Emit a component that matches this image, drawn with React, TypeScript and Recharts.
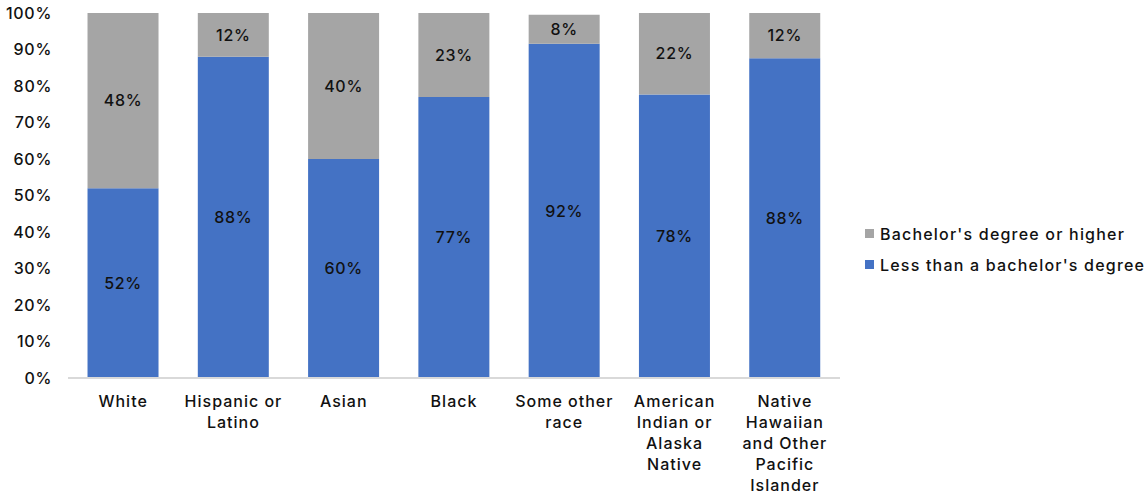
import { Bar, BarChart, LabelList, XAxis, YAxis } from 'recharts';

const CATEGORIES = [
  'White',
  'Hispanic or Latino',
  'Asian',
  'Black',
  'Some other race',
  'American Indian or Alaska Native',
  'Native Hawaiian and Other Pacific Islander',
];

// wrapped the way the source chart breaks them
const CATEGORY_LINES = [
  ['White'],
  ['Hispanic or', 'Latino'],
  ['Asian'],
  ['Black'],
  ['Some other', 'race'],
  ['American', 'Indian or', 'Alaska', 'Native'],
  ['Native', 'Hawaiian', 'and Other', 'Pacific', 'Islander'],
];

const LESS_THAN_BA = [52, 88, 60, 77, 91.6, 77.7, 87.6];
const BA_OR_HIGHER = [48, 12, 40, 23, 7.9, 22.3, 12.4];
const Y_TICKS = [0, 10, 20, 30, 40, 50, 60, 70, 80, 90, 100];

const BLUE = '#4472c4';
const GRAY = '#a5a5a5';
const FONT = 'Inter, "Noto Sans", sans-serif';
const INK = '#111';

const data = CATEGORIES.map((name, i) => ({
  name,
  less: LESS_THAN_BA[i],
  higher: BA_OR_HIGHER[i],
}));

function CategoryTick({ x, y, payload, index }: any) {
  const lines = CATEGORY_LINES[index] ?? [payload.value];
  return (
    <text
      x={x}
      y={y + 21}
      textAnchor="middle"
      fontFamily={FONT}
      fontSize={16}
      fontWeight={500}
      letterSpacing={1}
      fill={INK}
    >
      {lines.map((line: string, i: number) => (
        <tspan key={line} x={x} dy={i === 0 ? 0 : 21}>
          {line}
        </tspan>
      ))}
    </text>
  );
}

function LegendBox() {
  const items = [
    { label: "Bachelor's degree or higher", color: GRAY },
    { label: "Less than a bachelor's degree", color: BLUE },
  ];
  return (
    <div
      style={{
        position: 'absolute',
        left: 865,
        top: 218,
        fontFamily: FONT,
        fontSize: 16,
        fontWeight: 500,
        letterSpacing: 1.2,
        color: INK,
        whiteSpace: 'nowrap',
      }}
    >
      {items.map((item) => (
        <div key={item.label} style={{ display: 'flex', alignItems: 'center', height: 31 }}>
          <span style={{ width: 9, height: 9, background: item.color, marginRight: 6, display: 'inline-block' }} />
          <span>{item.label}</span>
        </div>
      ))}
    </div>
  );
}

const pct = (v: any) => `${Math.round(Number(v))}%`;
const labelStyle = { fill: INK, fontFamily: FONT, fontSize: 16, fontWeight: 500, letterSpacing: 0.7 };

export default function App() {
  return (
    <div style={{ position: 'absolute', left: 0, top: 0, width: 1147, height: 495, background: '#fff' }}>
      <BarChart
        width={1147}
        height={495}
        data={data}
        margin={{ top: 13, right: 307, bottom: 0, left: 0 }}
        barCategoryGap="17.7%"
      >
        <XAxis
          dataKey="name"
          interval={0}
          height={117}
          tickLine={false}
          axisLine={{ stroke: '#d9d9d9', strokeWidth: 2 }}
          tick={<CategoryTick />}
        />
        <YAxis
          domain={[0, 100]}
          ticks={Y_TICKS}
          width={68}
          axisLine={false}
          tickLine={false}
          tickSize={0}
          tickMargin={16}
          tickFormatter={(v) => `${v}%`}
          tick={{ fontFamily: FONT, fontSize: 16, fontWeight: 500, fill: INK, letterSpacing: 0.7 }}
        />
        <Bar dataKey="less" stackId="a" fill={BLUE} isAnimationActive={false}>
          <LabelList dataKey="less" position="center" formatter={pct} {...labelStyle} />
        </Bar>
        <Bar dataKey="higher" stackId="a" fill={GRAY} isAnimationActive={false}>
          <LabelList dataKey="higher" position="center" formatter={pct} {...labelStyle} />
        </Bar>
      </BarChart>
      <LegendBox />
    </div>
  );
}
